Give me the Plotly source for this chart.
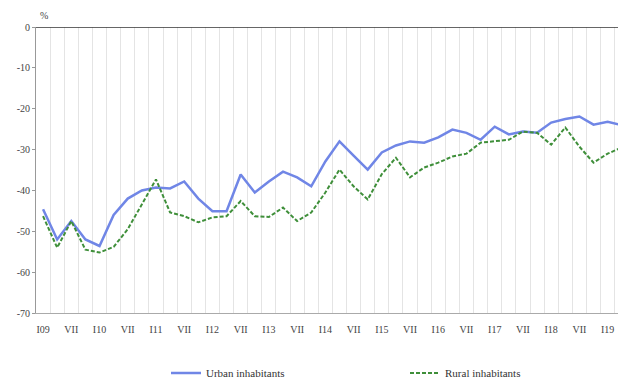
import plotly.graph_objects as go

# Quarterly periods, I 2009 .. IV 2019
quarters = [f"{q}{y:02d}" for y in range(9, 20) for q in ("I", "IV", "VII", "X")][:42]

urban = [-44.6, -52.0, -47.5, -52.0, -53.6, -46.0, -42.0, -40.0, -39.3, -39.5,
         -37.8, -42.0, -45.1, -45.1, -36.1, -40.5, -37.8, -35.4, -36.8, -39.0,
         -32.9, -28.0, -31.5, -34.9, -30.7, -29.0, -28.0, -28.3, -27.0, -25.1,
         -25.9, -27.6, -24.4, -26.3, -25.6, -25.9, -23.4, -22.5, -21.9, -23.9,
         -23.2, -24.0]

rural = [-46.3, -54.0, -47.5, -54.5, -55.2, -53.8, -49.5, -43.5, -37.3, -45.4,
         -46.3, -47.8, -46.6, -46.3, -42.6, -46.3, -46.5, -44.2, -47.5, -45.4,
         -40.5, -34.9, -39.0, -42.2, -36.0, -32.0, -36.8, -34.4, -33.2, -31.7,
         -31.0, -28.3, -28.0, -27.6, -25.6, -25.9, -28.8, -24.6, -29.3, -33.2,
         -31.0, -29.5]

tick_labels = ["I09", "VII", "I10", "VII", "I11", "VII", "I12", "VII", "I13", "VII",
               "I14", "VII", "I15", "VII", "I16", "VII", "I17", "VII", "I18", "VII", "I19"]
y_ticks = [0, -10, -20, -30, -40, -50, -60, -70]

xs = list(range(len(quarters)))
font_fam = "Liberation Serif"

W, H = 618, 375  # page body has an 8px margin

fig = go.Figure()
fig.add_trace(go.Scatter(x=xs, y=urban, mode="lines", name="Urban inhabitants",
                         line=dict(color="#7086e6", width=2.5)))
fig.add_trace(go.Scatter(x=xs, y=rural, mode="lines", name="Rural inhabitants",
                         line=dict(color="#3f8f3a", width=2, dash="4px,2px")))

fig.add_shape(type="line", xref="paper", yref="y", x0=0, x1=1, y0=0, y1=0,
              line=dict(color="#333333", width=1.5))

fig.update_layout(
    width=W, height=H,
    margin=dict(l=28, r=0, t=19, b=70, autoexpand=False),
    plot_bgcolor="white", paper_bgcolor="white",
    font=dict(family=font_fam, size=10, color="#444444"),
    showlegend=True,
    legend=dict(orientation="h", xref="container", yref="container",
                x=158 / W, y=1 - 365 / H, xanchor="left", yanchor="middle",
                entrywidth=194, entrywidthmode="pixels",
                font=dict(family=font_fam, size=11, color="#333333")),
    xaxis=dict(range=[-0.5, 41.3], tickvals=xs[::2][:len(tick_labels)], ticktext=tick_labels,
               showgrid=False, zeroline=False, showline=True, linecolor="#aaaaaa",
               linewidth=1, ticks="", ticklabelstandoff=7,
               minor=dict(tick0=-0.5, dtick=1, showgrid=True, gridcolor="#e4e4e4",
                          gridwidth=1, ticks="")),
    yaxis=dict(range=[-70, 0], tickvals=y_ticks, ticktext=[str(v) for v in y_ticks],
               showgrid=False, zeroline=False, showline=True, linecolor="#999999",
               linewidth=1, ticks="outside", ticklen=3, tickcolor="#999999"),
    annotations=[dict(text="%", xref="paper", yref="paper", x=0.0, y=1.0,
                      xanchor="left", yanchor="bottom", yshift=4, xshift=2, showarrow=False,
                      font=dict(family=font_fam, size=10, color="#444444"))],
)

fig.write_html("out.html")
